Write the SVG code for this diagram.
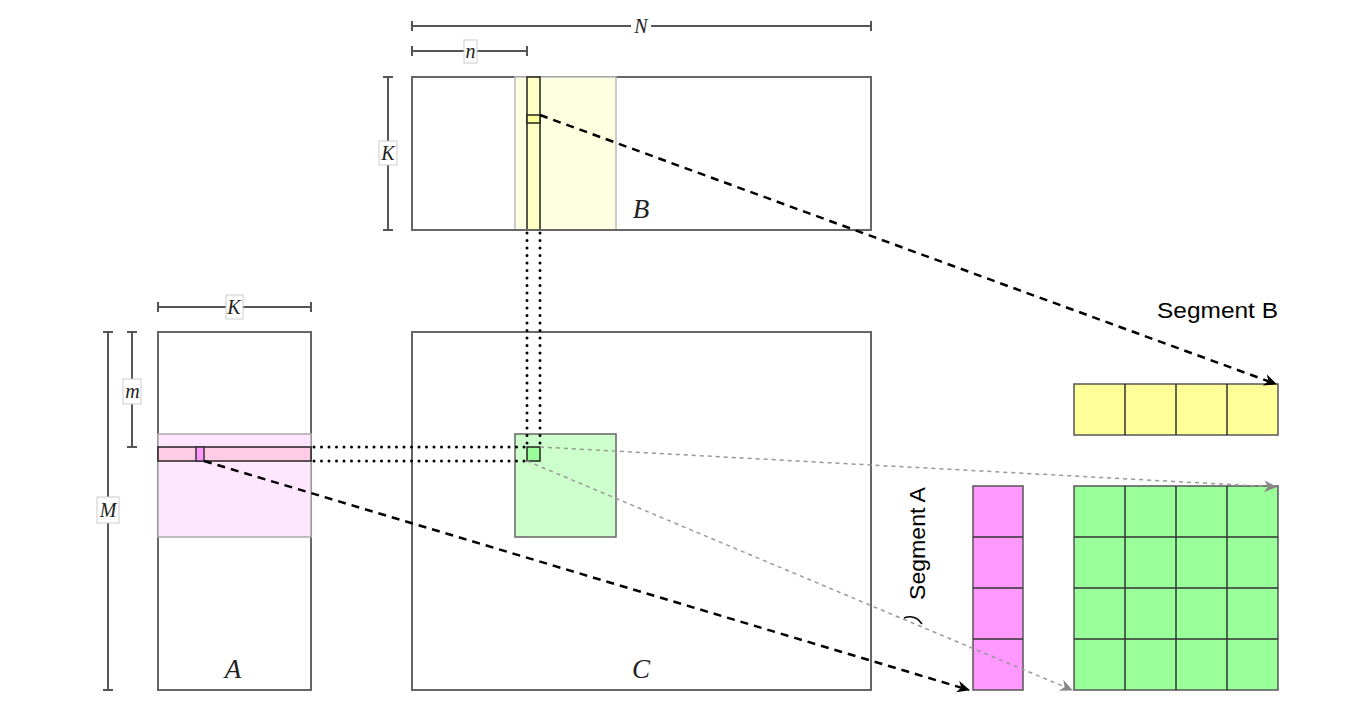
<svg xmlns="http://www.w3.org/2000/svg" width="1368" height="721" viewBox="0 0 1368 721">
<defs>
<style>
.mat{fill:#fff;stroke:#666;stroke-width:2}
.dim{stroke:#555;stroke-width:2;fill:none}
.lbl{font-family:"Liberation Serif","DejaVu Serif",serif;font-style:italic;font-size:20px;fill:#222}
.big{font-family:"Liberation Serif","DejaVu Serif",serif;font-style:italic;font-size:27px;fill:#222}
.seg{font-family:"Liberation Sans",Arial,sans-serif;font-size:22px;fill:#000}
.lblbox{fill:#fff;stroke:#ccc;stroke-width:1}
.cell{stroke:#333;stroke-width:1.5}
.dots{stroke:#000;stroke-width:3;stroke-linecap:round;stroke-dasharray:0 7.5;fill:none}
.dash{stroke:#000;stroke-width:2.5;stroke-dasharray:8 6;fill:none}
.gdash{stroke:#999;stroke-width:1.5;stroke-dasharray:4 4;fill:none}
</style>
<marker id="ah" markerWidth="14" markerHeight="12" refX="12" refY="6" orient="auto" markerUnits="userSpaceOnUse">
<path d="M0,0 L13,6 L0,12 L4,6 Z" fill="#000"/>
</marker>
<marker id="ahg" markerWidth="14" markerHeight="12" refX="12" refY="6" orient="auto" markerUnits="userSpaceOnUse">
<path d="M0,0 L13,6 L0,12 L4,6 Z" fill="#888"/>
</marker>
</defs>
<rect width="1368" height="721" fill="#fff"/>

<g id="matrixB">
<rect class="mat" x="412" y="77" width="459" height="153"/>
<rect x="515" y="77" width="101" height="153" fill="#fefee0" stroke="#bbb" stroke-width="1.5"/>
<rect x="527" y="77" width="13" height="153" fill="#ffffc4" stroke="#222" stroke-width="1.5"/>
<rect x="527" y="115" width="13" height="8" fill="#ffff99" stroke="#222" stroke-width="1.5"/>
<line x1="412" y1="230" x2="871" y2="230" stroke="#666" stroke-width="2"/>
<text class="big" x="641" y="218" text-anchor="middle">B</text>
</g>

<g id="dimN">
<path class="dim" d="M412,26 H871 M412,21 V31 M871,21 V31"/>
<rect x="631" y="14" width="20" height="22" fill="#fff"/>
<text class="lbl" x="641" y="33" text-anchor="middle">N</text>
</g>
<g id="dimn">
<path class="dim" d="M412,51 H527 M412,46 V56 M527,46 V56"/>
<rect class="lblbox" x="464" y="40" width="13" height="23"/>
<text class="lbl" x="470.5" y="58" text-anchor="middle">n</text>
</g>
<g id="dimKB">
<path class="dim" d="M388,77 V230 M383,77 H393 M383,230 H393"/>
<rect class="lblbox" x="379" y="141" width="18" height="24"/>
<text class="lbl" x="388" y="160" text-anchor="middle">K</text>
</g>

<g id="matrixA">
<rect class="mat" x="158" y="332" width="153" height="358"/>
<rect x="158" y="434" width="153" height="103" fill="#ffe6ff" stroke="#aaa" stroke-width="1.5"/>
<rect x="158" y="447" width="153" height="14" fill="#ffcce6" stroke="#222" stroke-width="1.5"/>
<rect x="196" y="447" width="8" height="14" fill="#ff99ff" stroke="#333" stroke-width="1.5"/>
<text class="big" x="233" y="678" text-anchor="middle">A</text>
</g>
<g id="dimKA">
<path class="dim" d="M158,307 H311 M158,302 V312 M311,302 V312"/>
<rect class="lblbox" x="226" y="295" width="17" height="24"/>
<text class="lbl" x="234" y="314" text-anchor="middle">K</text>
</g>
<g id="dimm">
<path class="dim" d="M132,332 V447 M127,332 H137 M127,447 H137"/>
<rect class="lblbox" x="123" y="379" width="18" height="25"/>
<text class="lbl" x="132.5" y="398" text-anchor="middle">m</text>
</g>
<g id="dimM">
<path class="dim" d="M108,332 V690 M103,332 H113 M103,690 H113"/>
<rect class="lblbox" x="97" y="497" width="22" height="26"/>
<text class="lbl" x="108" y="517" text-anchor="middle">M</text>
</g>

<g id="matrixC">
<rect class="mat" x="412" y="332" width="459" height="358"/>
<rect x="515" y="434" width="101" height="103" fill="#ccffcc" stroke="#666" stroke-width="1.5"/>
<rect x="527" y="447" width="13" height="14" fill="#99ff99" stroke="#222" stroke-width="1.5"/>
<text class="big" x="641" y="678" text-anchor="middle">C</text>
</g>

<g id="segmentB">
<rect x="1074" y="384" width="204" height="51" fill="#ffff99" stroke="#555" stroke-width="1.5"/>
<path class="cell" d="M1125,384 V435 M1176,384 V435 M1227,384 V435"/>
<text class="seg" x="1157" y="318" textLength="121" lengthAdjust="spacingAndGlyphs">Segment B</text>
</g>

<g id="segmentA">
<rect x="973" y="486" width="50" height="204" fill="#ff99ff" stroke="#555" stroke-width="1.5"/>
<path class="cell" d="M973,537 H1023 M973,588 H1023 M973,639 H1023"/>
<text class="seg" transform="translate(925,600) rotate(-90)" textLength="113" lengthAdjust="spacingAndGlyphs">Segment A</text>
<path d="M904,618 Q915,614 922,624" stroke="#000" stroke-width="1.5" fill="none"/>
</g>

<g id="segmentC">
<rect x="1074" y="486" width="204" height="204" fill="#99ff99" stroke="#555" stroke-width="1.5"/>
<path class="cell" d="M1125,486 V690 M1176,486 V690 M1227,486 V690 M1074,537 H1278 M1074,588 H1278 M1074,639 H1278"/>
</g>

<g id="connectors">
<path class="dots" d="M527,233 V447 M540,233 V447"/>
<path class="dots" d="M314,447 H527 M314,461 H527"/>
<path class="dash" d="M540,115 L1276,384" marker-end="url(#ah)"/>
<path class="dash" d="M204,461 L969,690" marker-end="url(#ah)"/>
<path class="gdash" d="M540,447 L1276,487" marker-end="url(#ahg)"/>
<path class="gdash" d="M527,461 L1072,690" marker-end="url(#ahg)"/>
</g>
</svg>
